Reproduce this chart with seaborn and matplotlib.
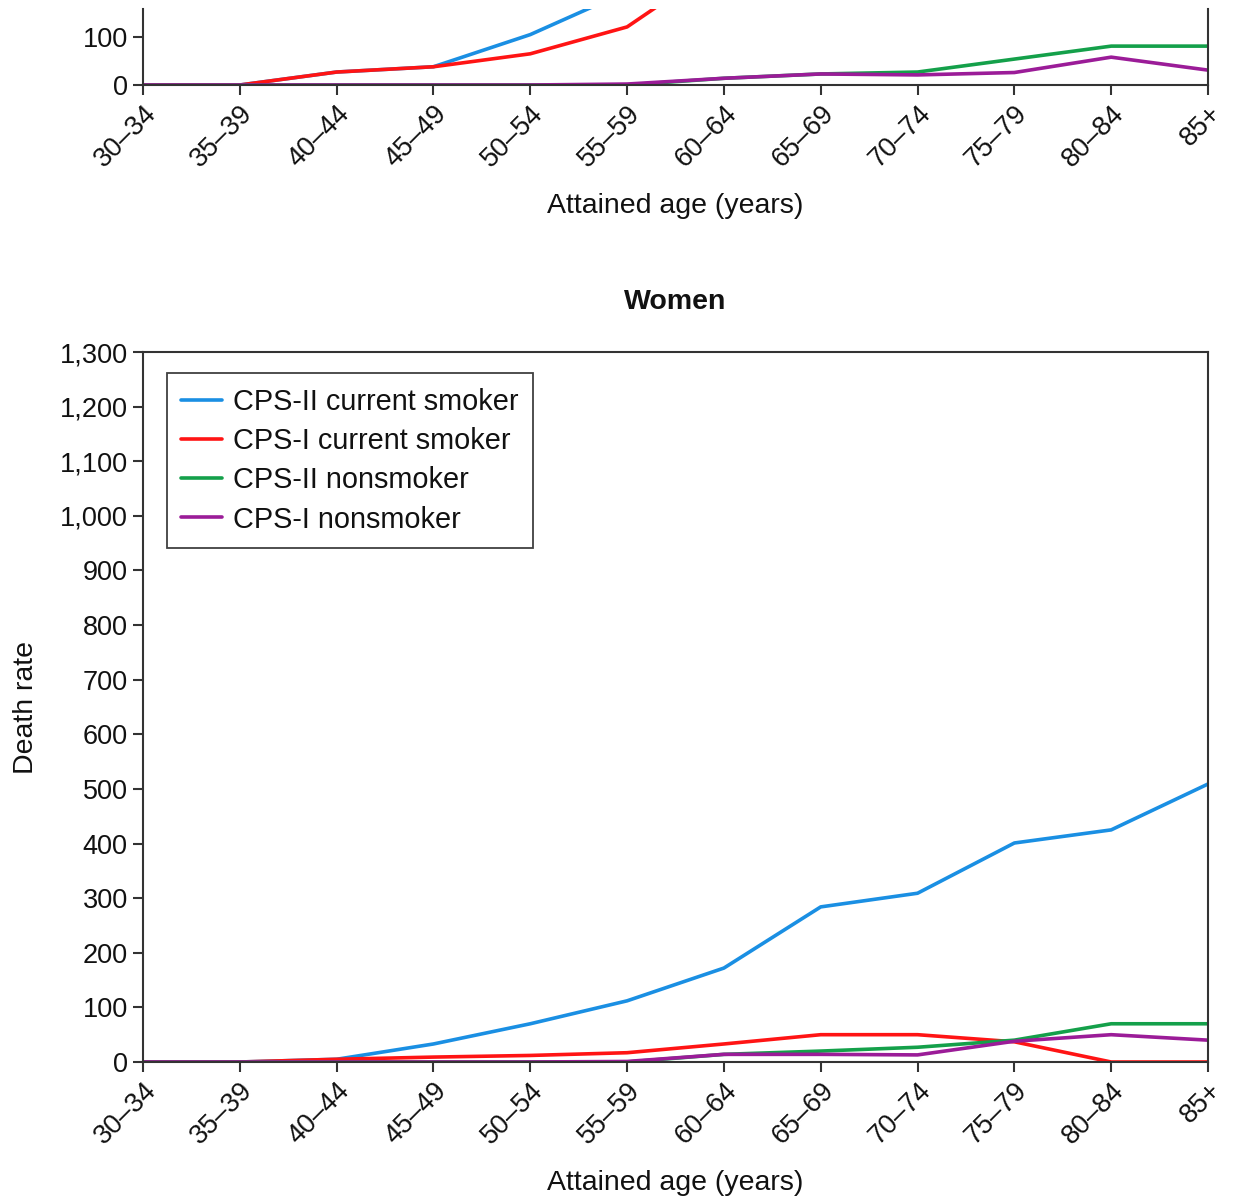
import matplotlib
matplotlib.use("Agg")
import matplotlib.pyplot as plt
import seaborn as sns
import pandas as pd
from matplotlib.ticker import FuncFormatter

ages = ["30–34", "35–39", "40–44", "45–49", "50–54", "55–59",
        "60–64", "65–69", "70–74", "75–79", "80–84", "85+"]
series_names = ["CPS-II current smoker", "CPS-I current smoker",
                "CPS-II nonsmoker", "CPS-I nonsmoker"]

# Men (top panel, mostly cropped)
men_cps2_smoker = [0, 0, 27, 38, 105, 195, 380, 600, 800, 1000, 1150, 1100]
men_cps1_smoker = [0, 0, 27, 38, 65, 121, 258, 350, 400, 430, 400, 350]
men_cps2_non = [0, 0, 0, 0, 0, 0, 14, 23, 27, 54, 81, 81]
men_cps1_non = [0, 0, 0, 0, 0, 2, 14, 23, 21, 26, 58, 31]

# Women
women_cps2_smoker = [0, 0, 5, 33, 70, 112, 172, 284, 309, 401, 425, 509]
women_cps1_smoker = [0, 0, 5, 9, 12, 17, 33, 50, 50, 37, 0, 0]
women_cps2_non = [0, 0, 0, 0, 0, 0, 14, 20, 27, 40, 70, 70]
women_cps1_non = [0, 0, 0, 0, 0, 1, 14, 14, 13, 38, 50, 40]

colors = ["#1a8fe3", "#ff1414", "#14a04a", "#9b1c98"]

def make_df(vals):
    rows = []
    for name, v in zip(series_names, vals):
        for i, (a, y) in enumerate(zip(ages, v)):
            rows.append({"pos": i, "age": a, "rate": y, "series": name})
    return pd.DataFrame(rows)

men_df = make_df([men_cps2_smoker, men_cps1_smoker, men_cps2_non, men_cps1_non])
women_df = make_df([women_cps2_smoker, women_cps1_smoker, women_cps2_non, women_cps1_non])

sns.set_theme(style="ticks")
plt.rcParams["font.family"] = ["Liberation Sans", "DejaVu Sans"]

W, H = 1233, 1198
fig = plt.figure(figsize=(W / 100, H / 100), dpi=100)

def px_axes(left, top, right, bottom):
    return fig.add_axes([left / W, 1 - bottom / H, (right - left) / W, (bottom - top) / H])

spine_c = "#333333"
tick_fs = 19.5
label_fs = 20.5

def style(ax):
    for s in ax.spines.values():
        s.set_color(spine_c)
        s.set_linewidth(1.5)
    ax.tick_params(axis="both", direction="out", length=7, width=1.5,
                   color=spine_c, labelsize=tick_fs, labelcolor="#111111", pad=4)
    ax.set_xlim(0, len(ages) - 1)
    ax.set_xticks(range(len(ages)))
    ax.set_xticklabels(ages, rotation=45, ha="right", va="top",
                       rotation_mode="anchor")
    ax.yaxis.set_major_formatter(FuncFormatter(lambda v, p: f"{int(v):,}"))
    ax.set_xlabel("Attained age (years)", fontsize=label_fs, color="#111111", labelpad=15)

# Top (Men) panel, cropped at the top of the figure
ax1 = px_axes(143, 9, 1208, 85)
sns.lineplot(data=men_df, x="pos", y="rate", hue="series", palette=colors,
             hue_order=series_names, linewidth=2.6, ax=ax1, legend=False)
ax1.set_ylim(0, (85 - 9) / 0.48)
ax1.set_yticks([0, 100])
ax1.spines["top"].set_visible(False)
style(ax1)
ax1.set_ylabel("")

# Women panel
ax2 = px_axes(143, 352, 1208, 1062)
sns.lineplot(data=women_df, x="pos", y="rate", hue="series", palette=colors,
             hue_order=series_names, linewidth=2.6, ax=ax2)
ax2.set_ylim(0, 1300)
ax2.set_yticks(range(0, 1301, 100))
style(ax2)
ax2.set_ylabel("Death rate", fontsize=label_fs, color="#111111", labelpad=15)
ax2.set_title("Women", fontsize=label_fs, fontweight="bold", pad=31, color="#111111")

leg = ax2.legend(loc="upper left", bbox_to_anchor=(0.0225, 0.970), borderaxespad=0,
                 fontsize=20.8, frameon=True, fancybox=False, handlelength=1.4,
                 handletextpad=0.4, labelspacing=0.39, borderpad=0.5)
leg.get_frame().set_edgecolor("#111111")
leg.get_frame().set_linewidth(1.3)
for t in leg.get_texts():
    t.set_color("#111111")

fig.savefig("out.png", dpi=100, facecolor="white")
